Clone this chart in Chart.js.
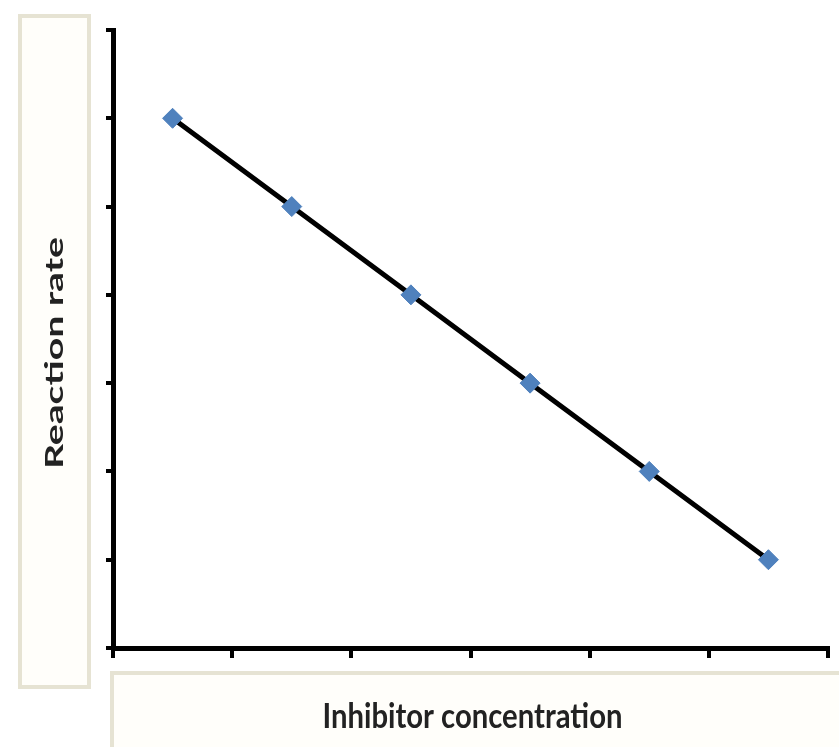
<!DOCTYPE html>
<html>
<head>
<meta charset="utf-8">
<script src="https://cdn.jsdelivr.net/npm/chart.js@4"></script>
<style>
  html, body { margin: 0; padding: 0; background: #ffffff; }
  #wrap { width: 839px; height: 747px; position: relative; }
</style>
</head>
<body>
<div id="wrap"><canvas id="c" width="839" height="747"></canvas></div>
<script>
const categories = ['1', '2', '3', '4', '5', '6'];
const reactionRate = [6, 5, 4, 3, 2, 1];
const yTickValues = [0, 1, 2, 3, 4, 5, 6, 7];
const xTitle = 'Inhibitor concentration';
const yTitle = 'Reaction rate';

// Axis-title boxes and titles (the reference's lettering is stretched vertically,
// so titles are drawn here with a non-uniform scale).
const boxesPlugin = {
  id: 'boxes',
  beforeDraw(chart) {
    const ctx = chart.ctx;
    ctx.save();
    ctx.fillStyle = '#ffffff';
    ctx.fillRect(0, 0, chart.width, chart.height);
    ctx.strokeStyle = '#e6e3d3';
    ctx.lineWidth = 4;
    ctx.fillStyle = '#fffefa';
    ctx.beginPath();
    ctx.rect(20, 16, 69, 671);
    ctx.fill();
    ctx.stroke();
    ctx.beginPath();
    ctx.rect(112, 673, 740, 90);
    ctx.fill();
    ctx.stroke();
    ctx.restore();
  },
  afterDraw(chart) {
    const ctx = chart.ctx;
    const area = chart.chartArea;
    ctx.save();
    ctx.fillStyle = '#222222';
    ctx.textAlign = 'center';
    ctx.textBaseline = 'alphabetic';

    // y title
    ctx.save();
    ctx.font = 'bold 24px Lato';
    const wy = ctx.measureText(yTitle).width;
    ctx.translate(63, 353);
    ctx.rotate(-Math.PI / 2);
    ctx.scale(232 / wy, 1);
    ctx.fillText(yTitle, 0, 0);
    ctx.restore();

    // x title
    ctx.save();
    ctx.font = 'bold 24px Lato';
    const wx = ctx.measureText(xTitle).width;
    ctx.translate((area.left + area.right) / 2 + 2, 728);
    ctx.scale(300 / wx, 1.45);
    ctx.fillText(xTitle, 0, 0);
    ctx.restore();

    ctx.restore();
  }
};

new Chart(document.getElementById('c'), {
  type: 'line',
  data: {
    labels: categories,
    datasets: [{
      data: reactionRate,
      borderColor: '#000000',
      borderWidth: 5,
      pointStyle: 'rectRot',
      pointRadius: 10,
      pointBackgroundColor: '#4f81bd',
      pointBorderColor: '#4f81bd',
      pointBorderWidth: 1,
      tension: 0,
      fill: false
    }]
  },
  options: {
    responsive: false,
    animation: false,
    devicePixelRatio: 1,
    layout: { padding: { left: 106, right: 9, top: 30, bottom: 89 } },
    plugins: { legend: { display: false }, tooltip: { enabled: false } },
    scales: {
      x: {
        type: 'category',
        offset: true,
        grid: { drawOnChartArea: false, drawTicks: true, tickLength: 10, color: '#000000', lineWidth: 4, offset: true },
        border: { display: true, color: '#000000', width: 5 },
        ticks: { display: false },
        title: { display: false, text: xTitle }
      },
      y: {
        type: 'linear',
        min: 0,
        max: 7,
        afterBuildTicks(scale) { scale.ticks = yTickValues.map(v => ({ value: v })); },
        grid: { drawOnChartArea: false, drawTicks: true, tickLength: 7, color: '#000000', lineWidth: 4 },
        border: { display: true, color: '#000000', width: 5 },
        ticks: { display: false, stepSize: 1 },
        title: { display: false, text: yTitle }
      }
    }
  },
  plugins: [boxesPlugin]
});
</script>
</body>
</html>
